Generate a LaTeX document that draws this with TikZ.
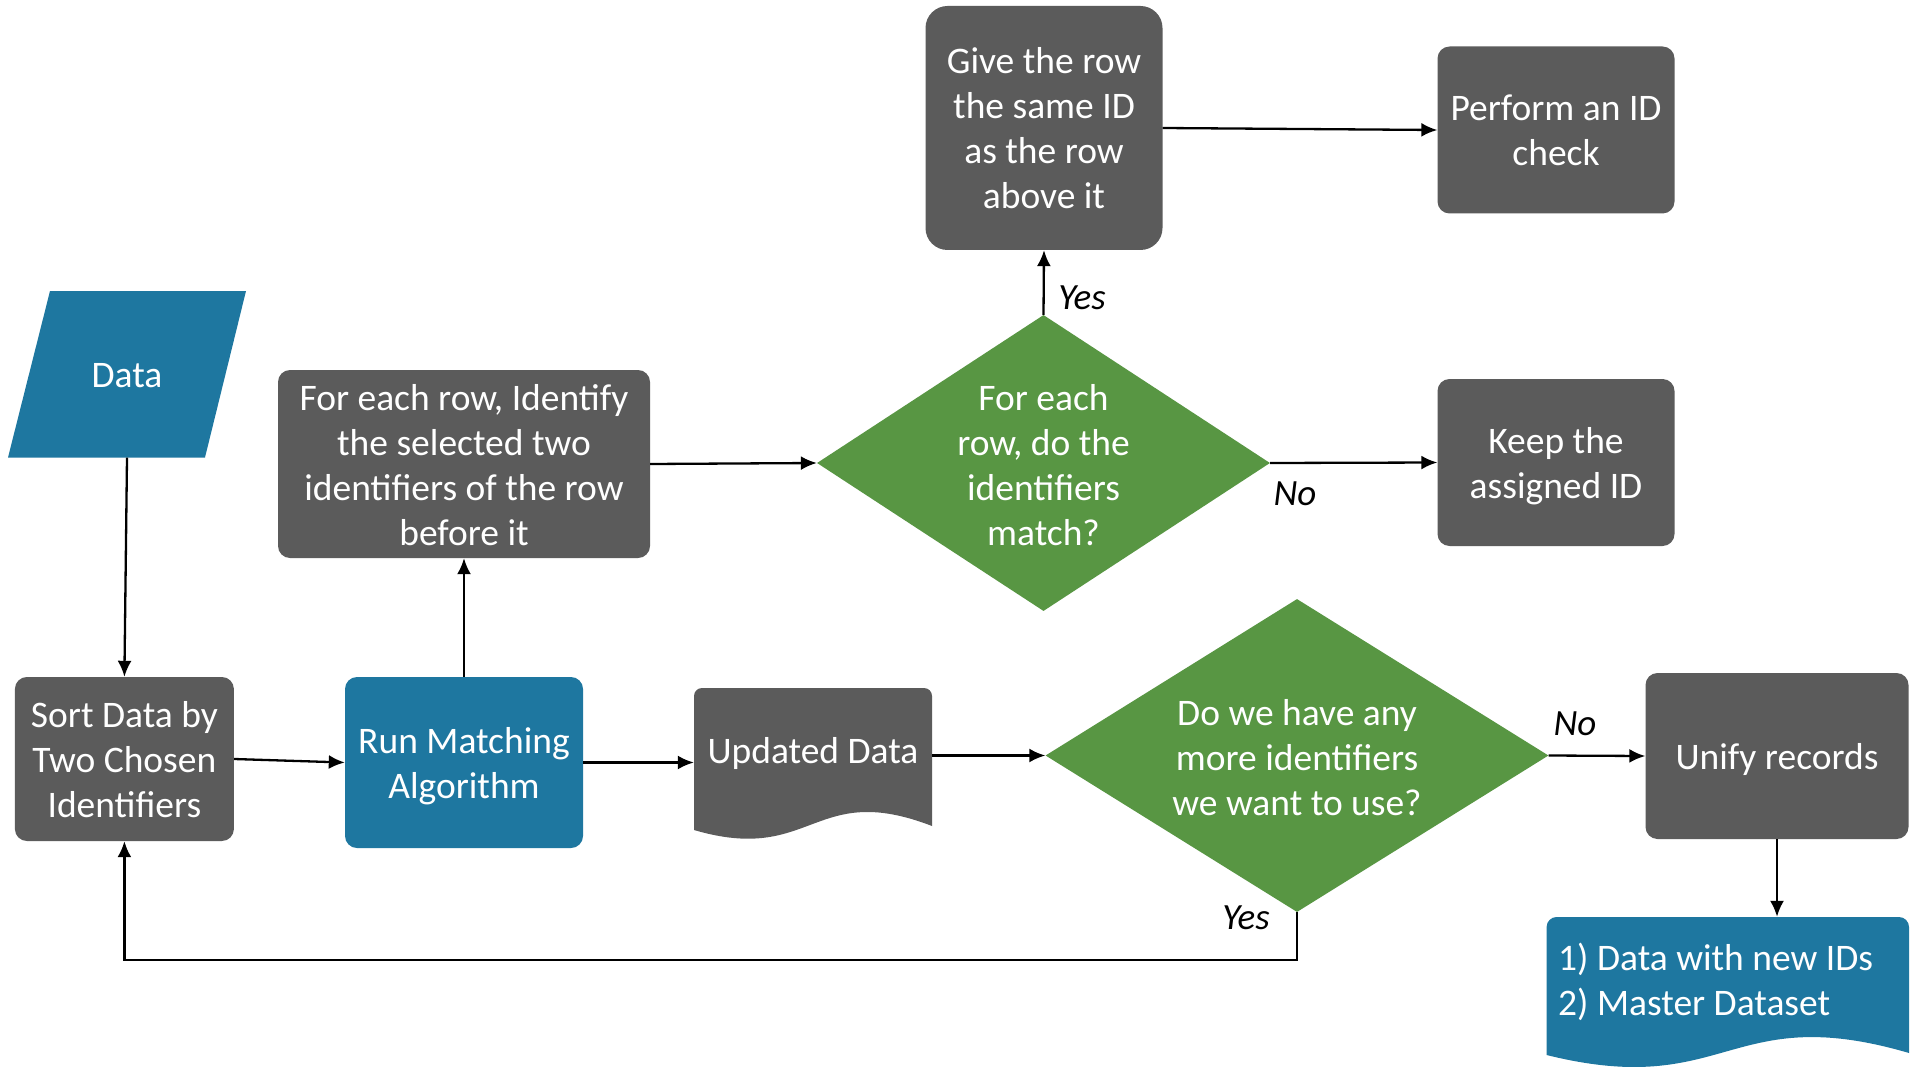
\documentclass[tikz,border=0pt]{standalone}
\usepackage{fontspec}
\setmainfont{Carlito}
\usetikzlibrary{arrows.meta,shapes.geometric}
\definecolor{boxgray}{HTML}{5B5B5B}
\definecolor{boxblue}{HTML}{1E77A0}
\definecolor{boxgreen}{HTML}{589643}
\newcommand\tS{\rule{0pt}{35pt}}
\newcommand\bS{\rule[-8pt]{0pt}{8pt}}
\begin{document}
\begin{tikzpicture}[x=1pt,y=-1pt,
 every node/.style={font=\fontsize{37.5}{45}\selectfont, text=white, align=center, inner sep=0pt},
 gbox/.style={fill=boxgray, rounded corners=12pt},
 bbox/.style={fill=boxblue, rounded corners=12pt},
 diam/.style={diamond, fill=boxgreen},
 lbl/.style={text=black, font=\fontsize{37}{42}\selectfont\itshape},
 conn/.style={line width=2.3pt, -{Latex[length=16pt,width=14pt]}}]
\useasboundingbox (0,0) rectangle (1921,1067);
\clip (0,0) rectangle (1921,1067);
% Data
\fill[boxblue] (50,291) -- (246,291) -- (205,457.5) -- (8,457.5) -- cycle;
\node[minimum height=166.5] (data) at (127,374.25) {\tS Data\bS};
% boxes
\node[gbox, minimum width=219, minimum height=164] (sort) at (124.4,759) {\tS Sort Data by\\Two Chosen\\Identifiers\bS};
\node[bbox, minimum width=238, minimum height=171] (run) at (464,762.5) {\tS Run Matching\\Algorithm\bS};
\node[gbox, minimum width=372, minimum height=188] (fe) at (464,464) {\tS For each row, Identify\\the selected two\\identifiers of the row\\before it\bS};
\node[diam, minimum width=453, minimum height=296] (d1) at (1043.5,463) {};
\node (d1t) at (1043.5,464) {\tS For each\\row, do the\\identifiers\\match?\bS};
\node[gbox, rounded corners=22pt, minimum width=237, minimum height=244] (give) at (1044,128) {\tS Give the row\\the same ID\\as the row\\above it\bS};
\node[gbox, minimum width=237, minimum height=167] (perf) at (1556,130) {\tS Perform an ID\\check\bS};
\node[gbox, minimum width=237, minimum height=167] (keep) at (1556,462.5) {\tS Keep the\\assigned ID\bS};
% Updated data document
\fill[boxgray] (694,830) [rounded corners=8pt] -- (694,688) -- (932,688) [sharp corners] -- (932,826)
  .. controls (813,780) and (813,865) .. (694,830) -- cycle;
\node[minimum width=238, minimum height=138] (upd) at (813,757) {};
\node (updt) at (813,750) {\tS Updated Data\bS};
% second decision
\node[diam, minimum width=503, minimum height=313] (d2) at (1297,755.5) {};
\node (d2t) at (1297,757) {\tS Do we have any\\more identifiers\\we want to use?\bS};
\node[gbox, minimum width=263, minimum height=166] (uni) at (1777,756) {\tS Unify records\bS};
% output document
\fill[boxblue] (1546.6,1055) [rounded corners=10pt] -- (1546.6,917) -- (1909,917) [sharp corners] -- (1909,1053)
  .. controls (1728,1000) and (1728,1100) .. (1546.6,1055) -- cycle;
\node[minimum width=362, minimum height=138] (out) at (1728,986) {};
\node[anchor=west, align=left] (outt) at (1558,979) {\tS 1) Data with new IDs\\2) Master Dataset\bS};
% connectors
\draw[conn] (data.south) -- (sort.north);
\draw[conn] (sort.east) -- (run.west);
\draw[conn] (run.north) -- (fe.south);
\draw[conn] (run.east) -- (run.east -| upd.west);
\draw[conn] (fe.east) -- (d1.west);
\draw[conn] (d1.north) -- (give.south);
\draw[conn] (give.east) -- (perf.west);
\draw[conn] (d1.east) -- (keep.west);
\draw[conn] (upd.east |- d2.west) -- (d2.west);
\draw[conn] (d2.east) -- (uni.west);
\draw[conn] (uni.south) -- (uni.south |- out.north);
\draw[conn] (d2.south) -- ++(0,47.5) -| (sort.south);
% labels
\node[lbl] (yes1) at (1082,298) {Yes};
\node[lbl] (no1) at (1295,494) {No};
\node[lbl] (no2) at (1575,724) {No};
\node[lbl] (yes2) at (1246,918) {Yes};
\end{tikzpicture}
\end{document}
